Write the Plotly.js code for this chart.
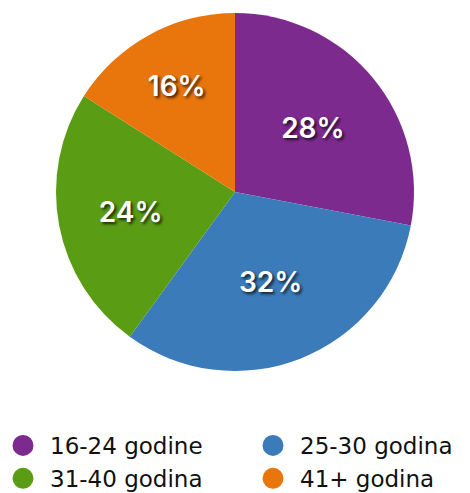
<!DOCTYPE html>
<html>
<head>
<meta charset="utf-8">
<script src="https://cdn.plot.ly/plotly-3.0.1.min.js"></script>
<style>html,body{margin:0;padding:0;background:#fff;}#chart{width:470px;height:493px;}</style>
</head>
<body>
<div id="chart"></div>
<script>
const categories = ["16-24 godine", "25-30 godina", "31-40 godina", "41+ godina"];
const shares = [28, 32, 24, 16];
const colors = ["#7d2a8f", "#3b7bba", "#5b9c15", "#e8760c"];
const labelsText = shares.map(v => v + "%");
const legendColumn = ["legend", "legend2", "legend", "legend2"];

const W = 470, H = 493;
const cx = 235, cy = 192, r = 179;

const pie = {
  type: "pie",
  values: shares,
  labels: categories,
  text: labelsText,
  textinfo: "text",
  textposition: "inside",
  insidetextorientation: "horizontal",
  sort: false,
  direction: "clockwise",
  rotation: 0,
  marker: {colors: colors, line: {width: 0}},
  textfont: {family: "Inter, 'Open Sans', sans-serif", size: 28, color: "#fff", weight: 600, shadow: "2px 2px 3px rgba(0,0,0,0.75)"},
  showlegend: false,
  hoverinfo: "none",
  domain: {x: [(cx - r) / W, (cx + r) / W], y: [(H - cy - r) / H, (H - cy + r) / H]}
};

const legendTraces = categories.map((c, i) => ({
  type: "scatter", mode: "markers", x: [null], y: [null], name: c,
  legend: legendColumn[i],
  marker: {color: colors[i], size: 16, symbol: "circle", line: {color: colors[i], width: 5}},
  showlegend: true, hoverinfo: "none"
}));

const legendFont = {family: "'DejaVu Sans', sans-serif", size: 23, color: "#111"};
const layout = {
  width: W, height: H,
  margin: {l: 0, r: 0, t: 0, b: 0, autoexpand: false},
  paper_bgcolor: "#fff", plot_bgcolor: "#fff",
  xaxis: {visible: false}, yaxis: {visible: false},
  showlegend: true,
  legend: {
    orientation: "v", x: -4 / W, y: -7 / H, xanchor: "left", yanchor: "bottom",
    itemwidth: 44, bgcolor: "rgba(0,0,0,0)", font: legendFont, tracegroupgap: 0
  },
  legend2: {
    orientation: "v", x: 246 / W, y: -7 / H, xanchor: "left", yanchor: "bottom",
    itemwidth: 44, bgcolor: "rgba(0,0,0,0)", font: legendFont, tracegroupgap: 0
  }
};

Plotly.newPlot("chart", [pie].concat(legendTraces), layout, {displayModeBar: false, staticPlot: true});
</script>
</body>
</html>
